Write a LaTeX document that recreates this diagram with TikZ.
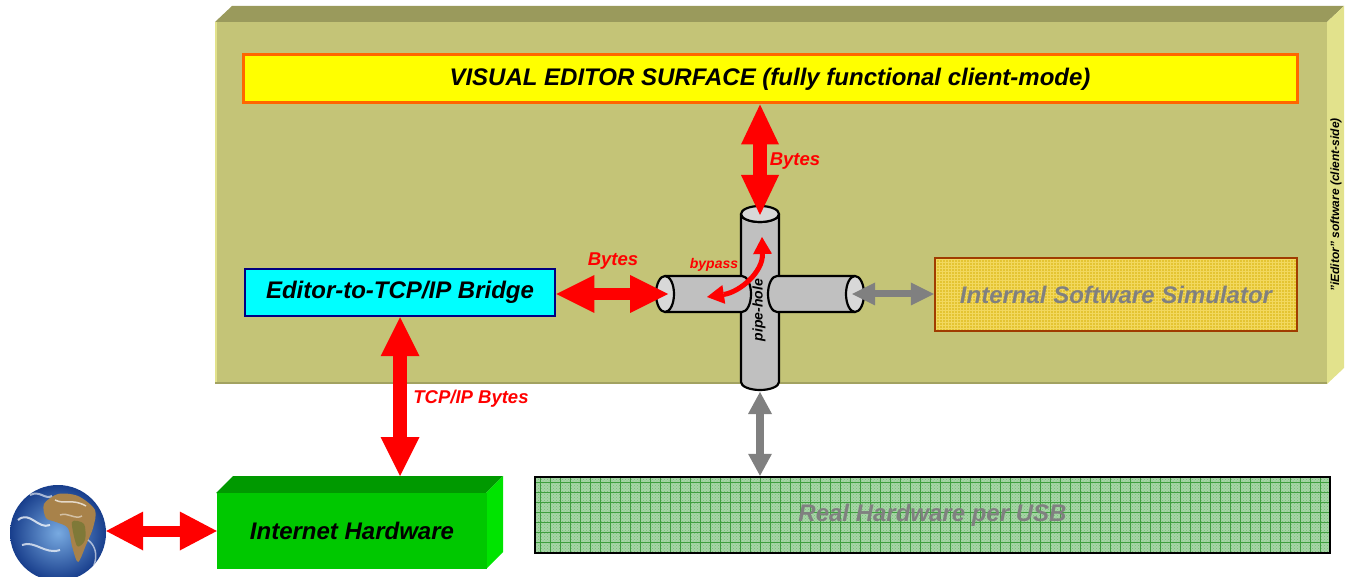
\documentclass[tikz,border=0pt]{standalone}
\usepackage{fontspec}
\setmainfont{Liberation Sans}
\usetikzlibrary{arrows.meta,calc,patterns}

\definecolor{olivefront}{HTML}{C4C477}
\definecolor{olivetop}{HTML}{9A9A5C}
\definecolor{oliveside}{HTML}{E2E28C}
\definecolor{surffill}{HTML}{FFFF00}
\definecolor{surfborder}{HTML}{FF6600}
\definecolor{bridgefill}{HTML}{00FFFF}
\definecolor{bridgeborder}{HTML}{000080}
\definecolor{simfill}{HTML}{E4C432}
\definecolor{simgrid}{HTML}{F2D85E}
\definecolor{simborder}{HTML}{A03C00}
\definecolor{usbfill}{HTML}{A6D6A6}
\definecolor{usbgrid}{HTML}{3E9E3E}
\definecolor{inettop}{HTML}{009900}
\definecolor{inetfront}{HTML}{00C800}
\definecolor{inetside}{HTML}{00E400}
\definecolor{pipefill}{HTML}{C0C0C0}
\definecolor{pipeend}{HTML}{D8D8D8}
\definecolor{flowgrey}{HTML}{808080}
\definecolor{flowred}{HTML}{FF0000}
\definecolor{landbrown}{HTML}{A8824A}

\tikzset{
  bigtext/.style={font=\fontsize{24}{28}\selectfont\bfseries\itshape},
  redlabel/.style={text=flowred, font=\fontsize{18.5}{22}\selectfont\bfseries\itshape, inner sep=0pt},
  pipe/.style={draw=black, line width=2.2pt, fill=pipefill, line join=round},
  pipeopen/.style={draw=black, line width=2.2pt, fill=pipeend},
  flow/.style n args={4}{draw=#1, line width=#2,
    arrows={Triangle[length=#3,width=#4,line width=0pt]-Triangle[length=#3,width=#4,line width=0pt]}},
}

\begin{document}
\begin{tikzpicture}[x=1pt,y=-1pt]
\useasboundingbox (0,0) rectangle (1350,577);

% client-side software block (3D slab)
\fill[olivetop] (215,22) -- (232,6) -- (1344,6) -- (1327,22) -- cycle;
\fill[oliveside] (1327,22) -- (1344,6) -- (1344,368) -- (1327,384) -- cycle;
\fill[olivefront] (215,22) rectangle (1327,384);
\fill[oliveside] (215,22) rectangle (217,384);
\fill[olivetop!80!olivefront] (215,382) rectangle (1327,384);
\node[rotate=90, font=\fontsize{12}{14}\selectfont\bfseries\itshape, inner sep=0pt]
  (sidelabel) at (1336,205) {"iEditor" software (client-side)};

% editor surface
\node[draw=surfborder, fill=surffill, line width=3pt, minimum width=1054, minimum height=48,
  inner sep=0pt, bigtext] (surface) at (770,79) {VISUAL EDITOR SURFACE (fully functional client-mode)};

% TCP/IP bridge
\node[draw=bridgeborder, fill=bridgefill, line width=2.5pt, minimum width=310, minimum height=47,
  inner sep=0pt, bigtext] (bridge) at (400,292.5) {Editor-to-TCP/IP Bridge};

% internal simulator
\fill[simfill] (935,258) rectangle (1297,331);
\fill[pattern=grid, pattern color=simgrid] (935,258) rectangle (1297,331);
\node[draw=simborder, line width=2.5pt, minimum width=362, minimum height=73,
  inner sep=0pt, bigtext, text=flowgrey] (sim) at (1116,294.5) {Internal Software Simulator};

% pipe-hole cross
\draw[pipe] (741,214) -- (741,382) arc[start angle=180,end angle=0,x radius=19,y radius=8]
  -- (779,214) arc[start angle=0,end angle=180,x radius=19,y radius=8] -- cycle;
\coordinate (ptop) at (760,214);
\coordinate (pbot) at (760,392);
\draw[pipeopen] (ptop) ellipse [x radius=19, y radius=8];
\draw[pipe] (665,276) -- (742,276) arc[start angle=270,end angle=450,x radius=9,y radius=18]
  -- (665,312) -- cycle;
\coordinate (pleft) at (665,294);
\draw[pipeopen] (pleft) ellipse [x radius=9, y radius=18];
\draw[pipe] (777,276) arc[start angle=270,end angle=90,x radius=9,y radius=18]
  -- (855,312) -- (855,276) -- cycle;
\coordinate (pright) at (855,294);
\draw[pipeopen] (pright) ellipse [x radius=9, y radius=18];
\node[rotate=90, font=\fontsize{14}{16}\selectfont\bfseries\itshape, inner sep=0pt]
  (pipelabel) at (759,310) {pipe-hole};

% bypass
\coordinate (bypassL) at (707,297);
\coordinate (bypassT) at (762,237);
\draw[flowred, line width=5pt, arrows={Triangle[length=17pt,width=19pt,line width=0pt]-Triangle[length=17pt,width=19pt,line width=0pt]}]
  (bypassL) .. controls (740,292) and (763,272) .. (bypassT);
\node[text=flowred, font=\fontsize{14}{16}\selectfont\bfseries\itshape, inner sep=0pt] (bypasslabel) at (714,265) {bypass};

% real hardware
\begin{scope}
  \clip (535,477) rectangle (1330,553);
  \fill[usbfill] (535,477) rectangle (1330,553);
  \fill[pattern=crosshatch dots, pattern color=usbgrid!70] (535,477) rectangle (1330,553);
  \foreach \x in {540,550,...,1330} \draw[usbgrid, line width=0.8pt] (\x,477) -- (\x,553);
  \foreach \y in {482,492,...,553} \draw[usbgrid, line width=0.8pt] (535,\y) -- (1330,\y);
\end{scope}
\node[draw=black, line width=2.5pt, minimum width=795, minimum height=76,
  inner sep=0pt, bigtext, text=flowgrey] (usb) at (932.5,515) {Real Hardware per USB};

% internet hardware (3D box)
\fill[inettop] (216,493) -- (233,476) -- (503,476) -- (486,493) -- cycle;
\fill[inetside] (486,493) -- (503,476) -- (503,552) -- (486,569) -- cycle;
\node[fill=inetfront, minimum width=270, minimum height=76, inner sep=0pt, bigtext]
  (inet) at (352,531) {Internet Hardware};
\coordinate (inetlid) at (400,476);

% globe
\node[circle, minimum size=96, inner sep=0pt, inner color={rgb,255:red,120;green,170;blue,225},
  outer color={rgb,255:red,24;green,62;blue,140}] (globe) at (58,533) {};
\begin{scope}
  \clip (globe.center) circle (48);
  \fill[landbrown] plot[smooth cycle] coordinates {(44,504) (58,494) (78,496) (95,510) (93,528) (86,545) (78,562) (72,546) (68,528) (56,522) (46,518)};
  \fill[landbrown!75!green!70!black, opacity=0.5] plot[smooth cycle] coordinates {(72,522) (84,524) (85,540) (77,546)};
  \draw[white, opacity=0.75, line width=2pt] (18,520) .. controls (30,510) and (38,530) .. (50,525);
  \draw[white, opacity=0.7, line width=2pt] (22,545) .. controls (35,540) and (45,555) .. (60,550);
  \draw[white, opacity=0.7, line width=1.5pt] (55,500) .. controls (65,505) and (72,498) .. (86,506);
  \draw[white, opacity=0.6, line width=2pt] (30,495) .. controls (40,490) and (45,500) .. (52,496);
  \draw[white, opacity=0.6, line width=1.5pt] (88,540) .. controls (95,545) and (98,555) .. (94,565);
  \draw[white, opacity=0.5, line width=1.5pt] (60,515) .. controls (68,512) and (75,520) .. (82,516);
\end{scope}

% data flows
\draw[flow={flowred}{14pt}{40pt}{38pt}] (ptop |- surface.south) -- ($(ptop)+(0,1)$);
\draw[flow={flowred}{12pt}{38pt}{38pt}] (bridge.east |- pleft) -- ($(pleft)+(3,0)$);
\draw[flow={flowred}{14pt}{39pt}{39pt}] (bridge.south) -- (inetlid);
\draw[flow={flowred}{11pt}{37pt}{39pt}] (globe.east |- inet.west) -- (inet.west);
\draw[flow={flowgrey}{7pt}{23pt}{23pt}] ($(pright)+(-3,0)$) -- (sim.west |- pright);
\draw[flow={flowgrey}{8pt}{22pt}{24pt}] (pbot) -- (pbot |- usb.north);

% flow labels
\node[redlabel] (lbytesv) at (795,161) {Bytes};
\node[redlabel] (lbytesh) at (613,261) {Bytes};
\node[redlabel] (ltcp) at (471,399) {TCP/IP Bytes};
\end{tikzpicture}
\end{document}
